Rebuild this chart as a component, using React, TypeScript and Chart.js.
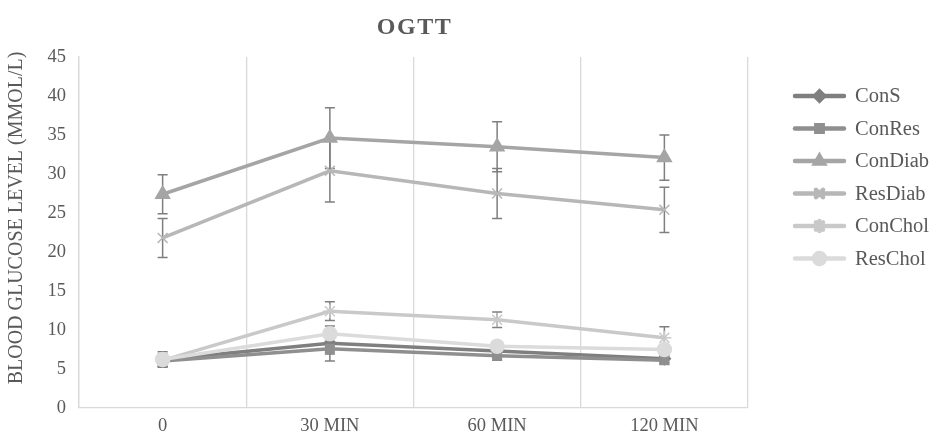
import React, { useEffect, useRef } from "react";
import { Chart, registerables } from "chart.js";
import * as helpers from "chart.js/helpers";

Chart.register(...registerables);

const title = "OGTT";
const yTitle = "BLOOD GLUCOSE LEVEL (MMOL/L)";
const categories = ["0", "30 MIN", "60 MIN", "120 MIN"];
const seriesNames = ["ConS", "ConRes", "ConDiab", "ResDiab", "ConChol", "ResChol"];
const conS = [6.2, 8.3, 7.3, 6.3];
const conRes = [6.0, 7.6, 6.7, 6.1];
const conDiab = [27.4, 34.6, 33.5, 32.1];
const resDiab = [21.8, 30.4, 27.5, 25.4];
const conChol = [6.1, 12.4, 11.3, 9.0];
const resChol = [6.2, 9.5, 7.9, 7.5];
const errConS = [1.0, 1.4, 0.8, 0.5];
const errConRes = [0.7, 1.6, 0.6, 0.5];
const errConDiab = [2.5, 3.9, 3.2, 2.9];
const errResDiab = [2.5, 4.0, 3.2, 2.9];
const errConChol = [0.8, 1.2, 1.0, 1.4];
const errResChol = [0.6, 1.0, 0.6, 0.6];
const yTicks = [0, 5, 10, 15, 20, 25, 30, 35, 40, 45];

const values = [conS, conRes, conDiab, resDiab, conChol, resChol];
const errors = [errConS, errConRes, errConDiab, errResDiab, errConChol, errResChol];
const colors = ["#7f7f7f", "#8f8f8f", "#a5a5a5", "#b7b7b7", "#c9c9c9", "#dbdbdb"];
const pointStyles = ["rectRot", "rect", "triangle", "crossRot", "star", "circle"];
const pointRadii = [6, 6, 8, 7, 7, 7];
const legendRadii = [4.5, 4.5, 5, 5, 5, 5.5];

const FONT = "'Liberation Serif', 'Times New Roman', serif";
const TEXT = "#595959";

const errorBarPlugin = {
  id: "errorBars",
  beforeDatasetsDraw(chart: any) {
    const ctx = chart.ctx;
    const xs = chart.scales.x;
    const ys = chart.scales.y;
    ctx.save();
    ctx.strokeStyle = "#7f7f7f";
    ctx.lineWidth = 1.5;
    errors.forEach((errs, di) => {
      errs.forEach((e, i) => {
        const v = values[di][i];
        const x = xs.getPixelForValue(i);
        const yt = ys.getPixelForValue(v + e);
        const yb = ys.getPixelForValue(v - e);
        ctx.beginPath();
        ctx.moveTo(x, yt);
        ctx.lineTo(x, yb);
        ctx.moveTo(x - 5, yt);
        ctx.lineTo(x + 5, yt);
        ctx.moveTo(x - 5, yb);
        ctx.lineTo(x + 5, yb);
        ctx.stroke();
      });
    });
    ctx.restore();
  },
};

const titleLegendPlugin = {
  id: "titleLegend",
  afterDraw(chart: any) {
    const ctx = chart.ctx;
    const area = chart.chartArea;
    ctx.save();
    // title
    ctx.fillStyle = TEXT;
    ctx.font = `bold 24px ${FONT}`;
    (ctx as any).letterSpacing = "1.5px";
    ctx.textAlign = "center";
    ctx.textBaseline = "middle";
    ctx.fillText(title, (area.left + area.right) / 2 + 1, 28);
    (ctx as any).letterSpacing = "0px";
    // y axis title
    ctx.save();
    ctx.translate(17, 218);
    ctx.rotate(-Math.PI / 2);
    ctx.font = `20px ${FONT}`;
    ctx.fillStyle = TEXT;
    ctx.textAlign = "center";
    ctx.textBaseline = "middle";
    ctx.fillText(yTitle, 0, 0);
    ctx.restore();
    // legend
    const x0 = 795;
    const x1 = 844;
    const startY = 96;
    const step = 32.5;
    seriesNames.forEach((name, i) => {
      const y = startY + i * step;
      ctx.strokeStyle = colors[i];
      ctx.lineWidth = 4.5;
      ctx.lineCap = "round";
      ctx.beginPath();
      ctx.moveTo(x0, y);
      ctx.lineTo(x1, y);
      ctx.stroke();
      ctx.fillStyle = colors[i];
      ctx.strokeStyle = colors[i];
      helpers.drawPoint(
        ctx,
        {
          pointStyle: pointStyles[i],
          radius: legendRadii[i],
          rotation: 0,
          borderWidth: 1.2,
        },
        (x0 + x1) / 2,
        y
      );
      ctx.fillStyle = TEXT;
      ctx.font = `20.5px ${FONT}`;
      ctx.textBaseline = "middle";
      ctx.textAlign = "left";
      ctx.fillText(name, 855, y + 1);
    });
    ctx.restore();
  },
};

export default function App() {
  const ref = useRef<HTMLCanvasElement | null>(null);
  useEffect(() => {
    if (!ref.current) return;
    const chart = new Chart(ref.current, {
      type: "line",
      data: {
        labels: categories,
        datasets: seriesNames.map((name, i) => ({
          label: name,
          data: values[i],
          order: seriesNames.length - i,
          borderColor: colors[i],
          backgroundColor: colors[i],
          pointBackgroundColor: colors[i],
          pointBorderColor: colors[i],
          pointBorderWidth: 1.5,
          pointStyle: pointStyles[i] as any,
          pointRadius: pointRadii[i],
          borderWidth: 3.5,
          tension: 0,
          fill: false,
        })),
      },
      options: {
        animation: false,
        responsive: false,
        maintainAspectRatio: false,
        layout: { padding: { left: 0, right: 183, top: 57, bottom: 0 } },
        plugins: {
          legend: { display: false },
          tooltip: { enabled: false },
          title: { display: false },
        },
        scales: {
          x: {
            offset: true,
            grid: { display: true, offset: true, color: "#d9d9d9", lineWidth: 1.3, drawTicks: false },
            border: { display: true, color: "#d9d9d9", width: 1.3 },
            ticks: { color: TEXT, font: { family: FONT, size: 18.5 }, padding: 7, maxRotation: 0 },
            afterFit(scale: any) {
              scale.height = 24;
            },
          },
          y: {
            min: 0,
            max: 45,
            afterBuildTicks(scale: any) {
              scale.ticks = yTicks.map((v) => ({ value: v }));
            },
            grid: { display: false, drawTicks: false },
            border: { display: true, color: "#d9d9d9", width: 1.3 },
            ticks: { color: TEXT, font: { family: FONT, size: 18.5 }, padding: 13 },
            title: { display: false },
            afterFit(scale: any) {
              scale.width = 79;
            },
          },
        },
      },
      plugins: [errorBarPlugin, titleLegendPlugin],
    });
    return () => chart.destroy();
  }, []);
  return (
    <div style={{ position: "fixed", left: 0, top: 0, width: 931, height: 432, background: "#fff" }}>
      <canvas ref={ref} width={931} height={432} style={{ width: 931, height: 432 }} />
    </div>
  );
}
